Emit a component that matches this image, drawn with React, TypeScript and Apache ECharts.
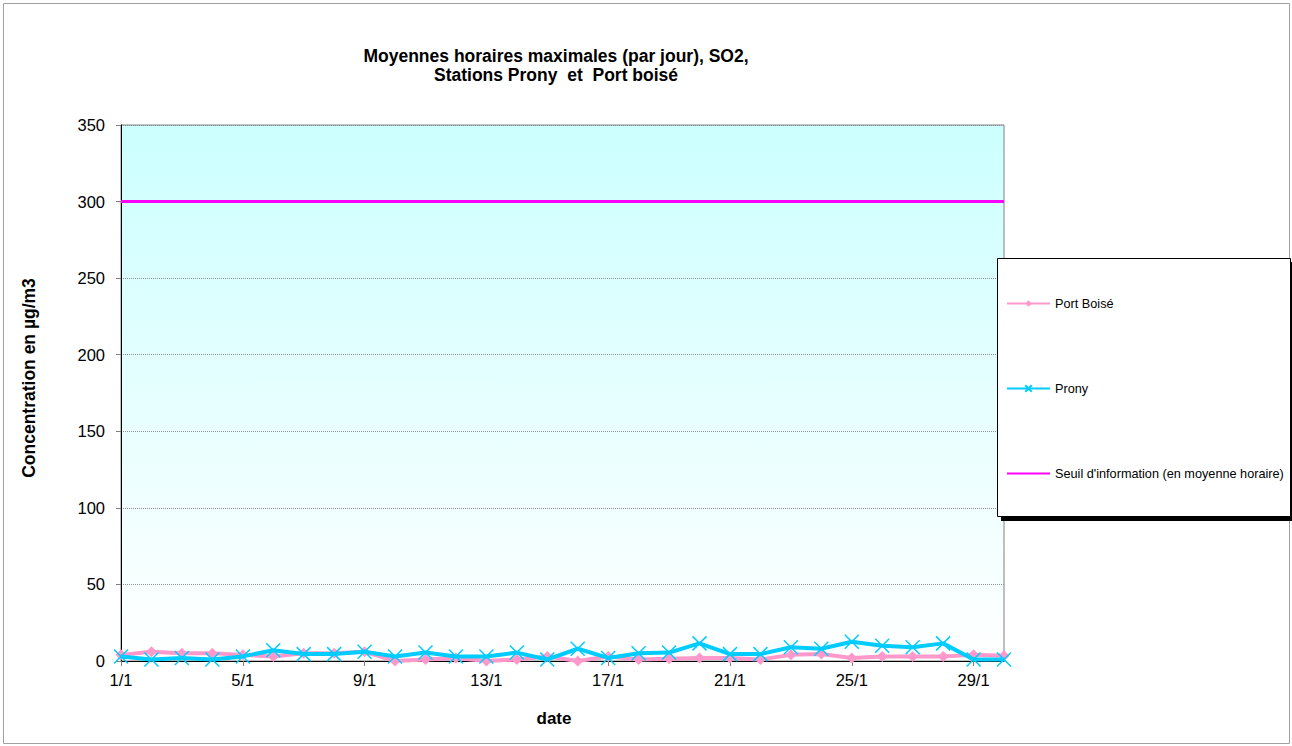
import React, { useEffect, useRef } from "react";
import * as echarts from "echarts";

const dates = Array.from({ length: 30 }, (_, i) => `${i + 1}/1`);
const portBoise = [4, 6, 5, 5, 4, 3, 5, 5, 6, 0, 1, 2, 0, 1, 3, 0, 3, 1, 1.5, 2, 2, 1, 4, 4.5, 2, 3, 3, 3, 4, 3.5];
const prony = [3, 1, 2, 1, 3, 7, 4.5, 4.5, 6, 3, 5.5, 3, 3, 5.5, 1, 8, 2, 5, 5.5, 11.5, 4.5, 4.5, 9, 8, 12.6, 10, 9, 11.5, 1, 1];
const seuil = dates.map(() => 300);
const yTicks = { min: 0, max: 350, interval: 50 };

const crossPath = "path://M0,0L10,10M10,0L0,10";

export default function App() {
  const ref = useRef<HTMLDivElement>(null);
  useEffect(() => {
    document.body.style.margin = "0";
    const chart = echarts.init(ref.current!, null, { renderer: "svg" });
    const font = "Arial, 'Liberation Sans', sans-serif";
    chart.setOption({
      animation: false,
      backgroundColor: "#fff",
      textStyle: { fontFamily: font },
      title: {
        text: "Moyennes horaires maximales (par jour), SO2,\nStations Prony  et  Port boisé",
        left: 551,
        textAlign: "center",
        top: 41,
        textStyle: { fontSize: 17.5, fontWeight: "bold", color: "#000", lineHeight: 19, fontFamily: font },
      },
      graphic: [
        {
          type: "rect",
          shape: { x: 3.5, y: 3.5, width: 1286, height: 740 },
          style: { fill: "none", stroke: "#a0a0a0", lineWidth: 1 },
          z: 0,
        },
        {
          type: "rect",
          shape: { x: 1001, y: 262, width: 293, height: 259 },
          style: { fill: "#000" },
          z: 1,
        },
        {
          type: "rect",
          shape: { x: 997.5, y: 258.5, width: 293, height: 258 },
          style: { fill: "#fff", stroke: "#000", lineWidth: 1 },
          z: 2,
        },
        {
          type: "text",
          x: 29,
          y: 378,
          rotation: Math.PI / 2,
          style: {
            text: "Concentration en µg/m3",
            fontSize: 17.5,
            fontWeight: "bold",
            fill: "#000",
            fontFamily: font,
            align: "center",
            verticalAlign: "middle",
          },
          z: 5,
        },
        {
          type: "text",
          x: 554,
          y: 718,
          style: {
            text: "date",
            fontSize: 17,
            fontWeight: "bold",
            fill: "#000",
            fontFamily: font,
            align: "center",
            verticalAlign: "middle",
          },
          z: 5,
        },
      ],
      legend: {
        orient: "vertical",
        left: 1001,
        top: 292,
        itemGap: 72,
        itemWidth: 43,
        itemHeight: 8,
        textStyle: { fontSize: 12.7, color: "#000", fontFamily: font },
        z: 5,
        data: [
          { name: "Port Boisé" },
          { name: "Prony" },
          { name: "Seuil d'information (en moyenne horaire)", itemStyle: { opacity: 0 } },
        ],
      },
      grid: {
        left: 121,
        top: 125,
        right: 288,
        bottom: 85,
        show: true,
        borderColor: "#808080",
        borderWidth: 1,
        backgroundColor: {
          type: "linear",
          x: 0,
          y: 0,
          x2: 0,
          y2: 1,
          colorStops: [
            { offset: 0, color: "#ccffff" },
            { offset: 1, color: "#ffffff" },
          ],
        },
      },
      xAxis: {
        type: "category",
        data: dates,
        boundaryGap: false,
        axisLine: { lineStyle: { color: "#000", width: 1 } },
        axisTick: { interval: 3, length: 5, lineStyle: { color: "#808080" } },
        axisLabel: { interval: 3, fontSize: 16.5, color: "#000", margin: 10 },
        splitLine: { show: false },
      },
      yAxis: {
        type: "value",
        min: yTicks.min,
        max: yTicks.max,
        interval: yTicks.interval,
        axisLine: { show: true, lineStyle: { color: "#000", width: 1 } },
        axisTick: { show: true, length: 5, lineStyle: { color: "#808080" } },
        axisLabel: { fontSize: 16.5, color: "#000", margin: 16 },
        splitLine: { show: true, lineStyle: { color: "#909090", type: "dotted", width: 1 } },
      },
      series: [
        {
          name: "Port Boisé",
          type: "line",
          data: portBoise,
          symbol: "diamond",
          symbolSize: 11,
          showAllSymbol: true,
          lineStyle: { color: "#ff99cc", width: 4 },
          itemStyle: { color: "#ff99cc" },
          z: 3,
        },
        {
          name: "Prony",
          type: "line",
          data: prony,
          symbol: crossPath,
          symbolSize: 14,
          showAllSymbol: true,
          lineStyle: { color: "#00ccff", width: 4 },
          itemStyle: { color: "#00ccff", borderColor: "#00ccff", borderWidth: 1.5 },
          z: 4,
        },
        {
          name: "Seuil d'information (en moyenne horaire)",
          type: "line",
          data: seuil,
          symbol: "none",
          lineStyle: { color: "#ff00ff", width: 3 },
          itemStyle: { color: "#ff00ff" },
          z: 2,
        },
      ],
    });
    return () => chart.dispose();
  }, []);
  return <div ref={ref} style={{ width: 1292, height: 746 }} />;
}
